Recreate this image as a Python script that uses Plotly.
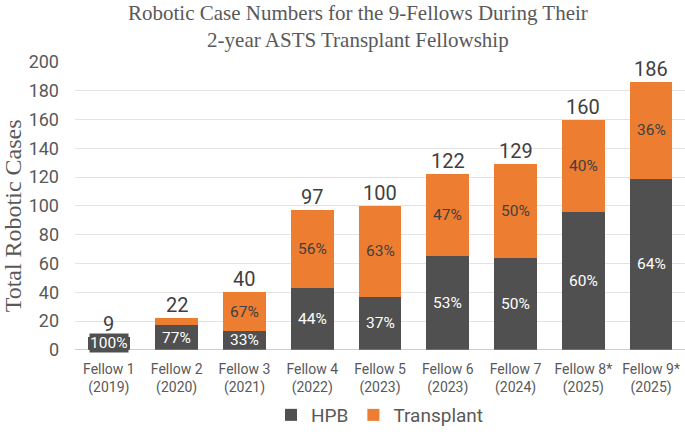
import plotly.graph_objects as go

categories = ["Fellow 1<br>(2019)", "Fellow 2<br>(2020)", "Fellow 3<br>(2021)", "Fellow 4<br>(2022)",
              "Fellow 5<br>(2023)", "Fellow 6<br>(2023)", "Fellow 7<br>(2024)", "Fellow 8*<br>(2025)",
              "Fellow 9*<br>(2025)"]
hpb = [9, 17, 13, 43, 37, 65, 64, 96, 119]
transplant = [0, 5, 27, 54, 63, 57, 65, 64, 67]
totals = [9, 22, 40, 97, 100, 122, 129, 160, 186]
hpb_pct = ["100%", "77%", "33%", "44%", "37%", "53%", "50%", "60%", "64%"]
tx_pct = ["", "", "67%", "56%", "63%", "47%", "50%", "40%", "36%"]

HPB_COLOR = "#505050"
TX_COLOR = "#ED7D31"
SANS = "Roboto, Liberation Sans, sans-serif"
SERIF = "Liberation Serif, Times New Roman, serif"

fig = go.Figure()
fig.add_trace(go.Bar(x=categories, y=hpb, name="HPB", marker=dict(color=HPB_COLOR, line=dict(width=0))))
fig.add_trace(go.Bar(x=categories, y=transplant, name="Transplant", marker=dict(color=TX_COLOR, line=dict(width=0))))

annotations = []
for c, h, t, tot, hp, tp in zip(categories, hpb, transplant, totals, hpb_pct, tx_pct):
    annotations.append(dict(x=c, y=h / 2, text=hp, showarrow=False, xref="x", yref="y",
                            font=dict(family=SANS, size=15.5, color="white"),
                            bgcolor=HPB_COLOR if h < 12 else None, borderpad=0))
    if tp:
        annotations.append(dict(x=c, y=h + t / 2, text=tp, showarrow=False, xref="x", yref="y",
                                font=dict(family=SANS, size=15.5, color="#404040")))
    annotations.append(dict(x=c, y=tot, text=str(tot), showarrow=False, xref="x", yref="y",
                            yanchor="bottom", yshift=-1,
                            font=dict(family=SANS, size=20, color="#404040")))

annotations.append(dict(text="Robotic Case Numbers for the 9-Fellows During Their<br>2-year ASTS Transplant Fellowship",
                        x=(358 - 75) / 610, xref="paper", y=1 + 63 / 289, yref="paper", yanchor="top",
                        xanchor="center", showarrow=False,
                        font=dict(family=SERIF, size=21, color="#595959")))
annotations.append(dict(text="Total Robotic Cases", textangle=-90,
                        x=(13 - 75) / 610, xref="paper", y=(351 - 217) / 289, yref="paper",
                        xanchor="center", yanchor="middle", showarrow=False,
                        font=dict(family=SERIF, size=24, color="#595959")))

fig.update_layout(
    barmode="stack",
    bargap=0.37,
    width=685, height=434,
    margin=dict(l=75, r=0, t=62, b=83),
    paper_bgcolor="white", plot_bgcolor="white",
    xaxis=dict(tickfont=dict(family=SANS, size=14, color="#595959"), showline=False, ticks="",
               ticklabelstandoff=9),
    yaxis=dict(range=[0, 200], dtick=20, gridcolor="#e3e3e3", gridwidth=1,
               zeroline=True, zerolinecolor="#d0d0d0", zerolinewidth=1,
               tickfont=dict(family=SANS, size=18, color="#595959"), ticklen=0, ticks="",
               ticklabelstandoff=15, automargin=False),
    legend=dict(orientation="h", x=0.5, xanchor="center", y=0.0, yref="container", yanchor="bottom",
                font=dict(family=SANS, size=19, color="#595959"), itemwidth=30,
                traceorder="normal"),
    annotations=annotations,
    showlegend=True,
)
fig.write_html("out.html")
